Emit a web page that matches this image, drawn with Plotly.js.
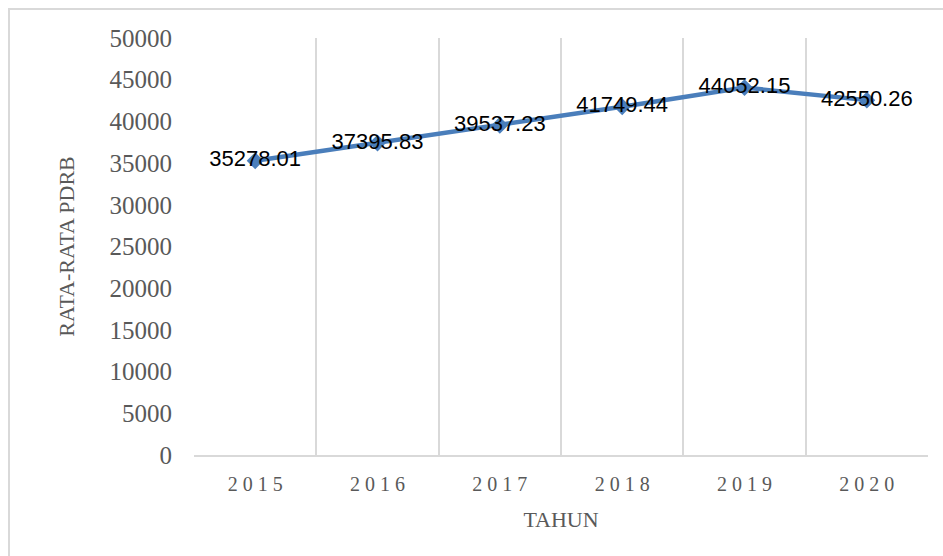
<!DOCTYPE html>
<html>
<head>
<meta charset="utf-8">
<script src="https://cdn.plot.ly/plotly-3.0.1.min.js"></script>
<style>
  html, body { margin: 0; padding: 0; background: #ffffff; }
  #chart { width: 943px; height: 556px; }
  #frame { position: absolute; left: 8px; top: 8px; width: 1000px; height: 600px;
           border-left: 2px solid #d9d9d9; border-top: 2px solid #d9d9d9; pointer-events: none; }
</style>
</head>
<body>
<div id="chart"></div>
<div id="frame"></div>
<script>
const years = ["2015", "2016", "2017", "2018", "2019", "2020"];
const pdrb = [35278.01, 37395.83, 39537.23, 41749.44, 44052.15, 42550.26];
const labels = pdrb.map(v => v.toFixed(2));
const yTicks = [0, 5000, 10000, 15000, 20000, 25000, 30000, 35000, 40000, 45000, 50000];

const serif = '"Liberation Serif", "DejaVu Serif", serif';
const gray = '#595959';

const trace = {
  x: years,
  y: pdrb,
  text: labels,
  type: 'scatter',
  mode: 'lines+markers+text',
  textposition: 'middle center',
  textfont: { family: '"Liberation Sans", Arial, sans-serif', size: 22, color: '#000000' },
  line: { color: '#4a7ebb', width: 4.5 },
  marker: { symbol: 'diamond', size: 13, color: '#4a7ebb' },
  cliponaxis: false,
  hoverinfo: 'x+y'
};

const layout = {
  width: 943,
  height: 556,
  margin: { l: 194, r: 15, t: 38, b: 101, autoexpand: false },
  paper_bgcolor: '#ffffff',
  plot_bgcolor: '#ffffff',
  showlegend: false,
  xaxis: {
    type: 'category',
    range: [-0.5, 5.5],
    autorange: false,
    tickson: 'boundaries',
    tickvals: years,
    ticktext: years.map(y => y.split('').join(' ')),
    showgrid: true,
    gridcolor: '#d9d9d9',
    gridwidth: 2,
    showline: true,
    linecolor: '#d9d9d9',
    linewidth: 2,
    ticks: '',
    ticklabelstandoff: 10,
    tickfont: { family: serif, size: 20, color: gray },
    title: { text: 'TAHUN', font: { family: serif, size: 22, color: gray }, standoff: 18 },
    zeroline: false,
    automargin: false,
    fixedrange: true
  },
  yaxis: {
    range: [0, 50000],
    autorange: false,
    tickvals: yTicks,
    ticktext: yTicks.map(String),
    showgrid: false,
    showline: false,
    zeroline: false,
    ticks: 'outside',
    ticklen: 16,
    tickcolor: 'rgba(0,0,0,0)',
    tickfont: { family: serif, size: 25, color: gray },
    title: { text: 'RATA-RATA PDRB', font: { family: serif, size: 22, color: gray }, standoff: 28 },
    automargin: false,
    fixedrange: true
  }
};

Plotly.newPlot('chart', [trace], layout, { displayModeBar: false, staticPlot: true });
</script>
</body>
</html>
